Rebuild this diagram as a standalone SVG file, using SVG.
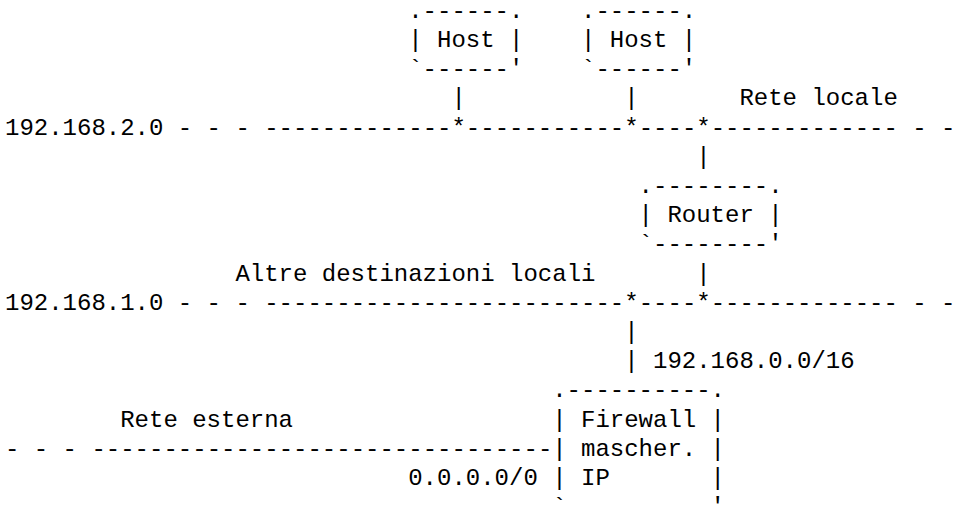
<svg xmlns="http://www.w3.org/2000/svg" width="973" height="506" viewBox="0 0 973 506">
<style>
text{font-family:"Liberation Mono","DejaVu Sans Mono",monospace;font-size:24px;fill:#000;white-space:pre}
</style>
<rect width="973" height="506" fill="#fff"/>
<g id="connectors">
<text x="451.4" y="105.4">|</text>
<text x="624.2" y="105.4">|</text>
<text x="177.8" y="134.6" xml:space="preserve">- - - -------------*-----------*----*------------- - - -</text>
<text x="696.2" y="163.8">|</text>
<text x="696.2" y="280.6">|</text>
<text x="177.8" y="309.8" xml:space="preserve">- - - -------------------------*----*------------- - - -</text>
<text x="624.2" y="339">|</text>
<text x="624.2" y="368.2">|</text>
<text x="5" y="455.8" xml:space="preserve">- - - --------------------------------</text>
</g>
<g id="labels">
<text x="739.4" y="105.4">Rete locale</text>
<text x="5" y="134.6">192.168.2.0</text>
<text x="235.4" y="280.6">Altre destinazioni locali</text>
<text x="5" y="309.8">192.168.1.0</text>
<text x="653" y="368.2">192.168.0.0/16</text>
<text x="120.2" y="426.6">Rete esterna</text>
<text x="408.2" y="485">0.0.0.0/0</text>
</g>
<g id="host1">
<text x="408.2" y="17.8">.------.</text>
<text x="408.2" y="47" xml:space="preserve">| Host |</text>
<text x="408.2" y="76.2">`------'</text>
</g>
<g id="host2">
<text x="581" y="17.8">.------.</text>
<text x="581" y="47" xml:space="preserve">| Host |</text>
<text x="581" y="76.2">`------'</text>
</g>
<g id="router">
<text x="638.6" y="193">.--------.</text>
<text x="638.6" y="222.2" xml:space="preserve">| Router |</text>
<text x="638.6" y="251.4">`--------'</text>
</g>
<g id="firewall">
<text x="552.2" y="397.4">.----------.</text>
<text x="552.2" y="426.6" xml:space="preserve">| Firewall |</text>
<text x="552.2" y="455.8" xml:space="preserve">| mascher. |</text>
<text x="552.2" y="485" xml:space="preserve">| IP       |</text>
<text x="552.2" y="514.2">`----------'</text>
</g>
</svg>
